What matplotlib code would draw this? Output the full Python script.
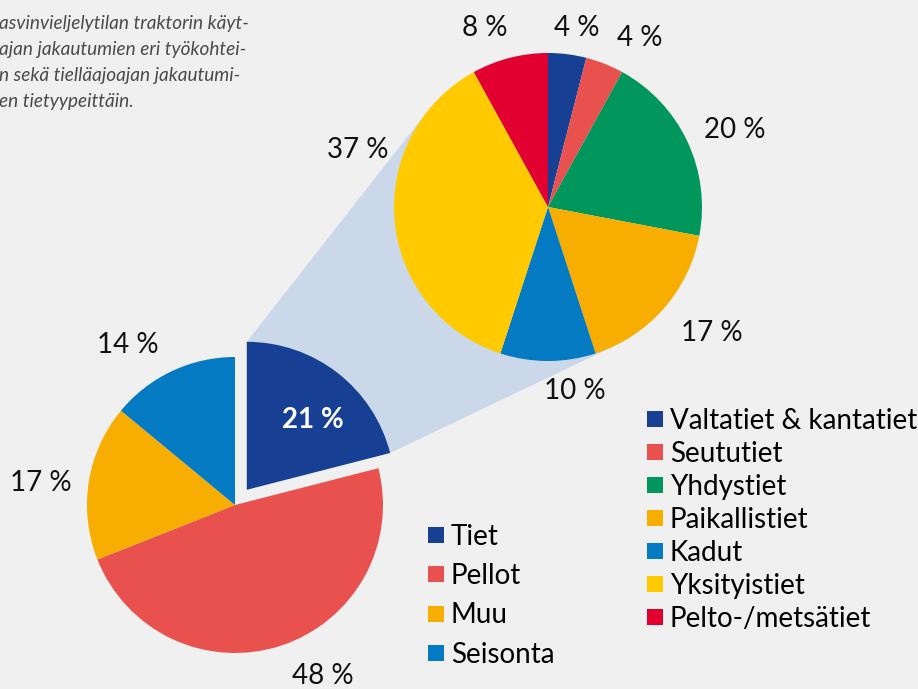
import numpy as np
import matplotlib.pyplot as plt

# left pie: share of tractor working time
work_labels = ['Tiet', 'Pellot', 'Muu', 'Seisonta']
work_pct = [21, 48, 17, 14]
work_colors = ['#173f93', '#e9514f', '#f8ae00', '#037ac2']

# right pie: road driving split by road type
road_labels = ['Valtatiet & kantatiet', 'Seututiet', 'Yhdystiet', 'Paikallistiet',
               'Kadut', 'Yksityistiet', 'Pelto-/metsätiet']
road_pct = [4, 4, 20, 17, 10, 37, 8]
road_colors = ['#173f93', '#e9514f', '#00965c', '#f8ae00', '#037ac2', '#ffcb00', '#e10030']

caption = ['asvinvieljelytilan traktorin käyt-',
           'ajan jakautumien eri työkohtei-',
           'n sekä tielläajoajan jakautumi-',
           'en tietyypeittäin.']

# label placement (angle in degrees, distance in radii)
work_lab_ang = [46.7, -63, 173.6, 124]
work_lab_dist = [0.65, 1.30, 1.32, 1.30]
road_lab_ang = [80.8, 61.6, 22.4, -37.5, -81.7, 163.3, 109.4]
road_lab_dist = [1.18, 1.25, 1.31, 1.34, 1.21, 1.29, 1.23]

BG = '#f0f0f0'
W, H = 918, 689
FS = 20
plt.rcParams['font.family'] = ['Lato', 'DejaVu Sans']

fig = plt.figure(figsize=(W / 100, H / 100), dpi=100, facecolor=BG)
ax = fig.add_axes([0, 0, 1, 1])
ax.set_facecolor(BG)

c1, r1 = (235, 184), 148
c2, r2 = (548, 482), 154

# explode is given in data units here
w1, _ = ax.pie(work_pct, colors=work_colors, startangle=90, counterclock=False,
               center=c1, radius=r1, explode=[0.13 * r1, 0, 0, 0],
               wedgeprops=dict(linewidth=0), frame=True)
w2, _ = ax.pie(road_pct, colors=road_colors, startangle=90, counterclock=False,
               center=c2, radius=r2, wedgeprops=dict(linewidth=0), frame=True)

# connector from the exploded "Tiet" wedge to the second pie
tw = w1[0]
tc = np.array(tw.center)
P = tc + tw.r * np.array([np.cos(np.radians(tw.theta2)), np.sin(np.radians(tw.theta2))])
Q = tc + tw.r * np.array([np.cos(np.radians(tw.theta1)), np.sin(np.radians(tw.theta1))])


def tangent(E, C, R, sign):
    v = E - np.array(C)
    d = np.hypot(*v)
    phi = np.arctan2(v[1], v[0]) + sign * np.arccos(R / d)
    return np.array(C) + R * np.array([np.cos(phi), np.sin(phi)])


T1 = tangent(P, c2, r2, -1)
T2 = tangent(Q, c2, r2, +1)
ax.add_patch(plt.Polygon([P, T1, c2, T2, Q], closed=True, facecolor='#cbd8e9',
                         edgecolor='none', zorder=0))

# percentage labels
for i, w in enumerate(w1):
    base = np.array(w.center) if i == 0 else np.array(c1)
    a = np.radians(work_lab_ang[i])
    x, y = base + work_lab_dist[i] * r1 * np.array([np.cos(a), np.sin(a)])
    if i == 0:
        ax.text(x, y, f'{work_pct[i]} %', ha='center', va='center', fontsize=FS,
                color='white', fontweight='bold')
    else:
        ax.text(x, y, f'{work_pct[i]} %', ha='center', va='center', fontsize=FS, color='#111111')

for i in range(len(road_pct)):
    a = np.radians(road_lab_ang[i])
    x, y = np.array(c2) + road_lab_dist[i] * r2 * np.array([np.cos(a), np.sin(a)])
    ax.text(x, y, f'{road_pct[i]} %', ha='center', va='center', fontsize=FS, color='#111111')

# legends
leg_kw = dict(loc='upper left', bbox_transform=fig.transFigure, frameon=False, fontsize=FS,
              handlelength=0.575, handleheight=0.51, handletextpad=0.25,
              borderpad=0, borderaxespad=0)
leg1 = ax.legend(w1, work_labels, bbox_to_anchor=(428 / W, 1 - 524 / H),
                 labelspacing=0.475, **leg_kw)
ax.add_artist(leg1)
ax.legend(w2, road_labels, bbox_to_anchor=(647 / W, 1 - 408 / H),
          labelspacing=0.25, **leg_kw)

# caption (cut off at the left edge in the original)
for k, line in enumerate(caption):
    ax.text(-1, H - 29 - k * 26, line, ha='left', va='baseline', fontsize=13.7,
            style='italic', color='#4a4a4a')

ax.set_xlim(0, W)
ax.set_ylim(0, H)
ax.set_aspect('equal')
ax.axis('off')

fig.savefig('out.png', dpi=100, facecolor=BG)
